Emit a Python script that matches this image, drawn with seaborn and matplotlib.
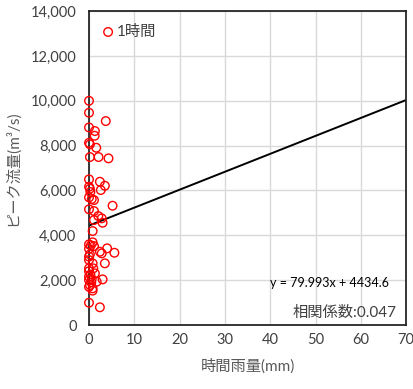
import numpy as np
import pandas as pd
import matplotlib
matplotlib.use("Agg")
import matplotlib.pyplot as plt
import seaborn as sns

# data
rain_mm = [0, 0, 3.7, 0, 1.3, 1.25, 0, 0.2, 1.6, 0.2, 2.1, 4.3, 0, 2.4, 0, 3.5, 2.6, 0.2,
           0.3, 0, 0.6, 1.1, 5.2, 0, 1.1, 2.05, 2.8, 3.0, 1.1, 0.8, 0, 0.8, 1.1, 2.4, 2.8,
           4.0, 5.6, 0, 0, 0.2, 3.5, 0.8, 0, 0.95, 1.3, 0, 0, 0.2, 3.0, 1.7, 0.8, 0.8, 0,
           2.4, 0, 0, 0.3, 0.5, 0, 0.4, 0.6]
peak_flow = [10000, 9467, 9095, 8810, 8650, 8440, 8127, 8056, 7905, 7490, 7490, 7432, 6496,
             6389, 6166, 6210, 6019, 6080, 5930, 5690, 5617, 5572, 5320, 5160, 5082, 4860,
             4757, 4560, 4681, 4190, 3597, 3687, 3522, 3268, 3196, 3420, 3223, 3050, 2900,
             3150, 2750, 2750, 2527, 2527, 2304, 2155, 2006, 1783, 2036, 1930, 1636, 1532,
             994, 790, 3400, 2400, 2250, 1900, 1700, 3550, 2050]
series_label = "1時間"
slope = 79.993
intercept = 4434.6
trend_x = [0, 70]
corr_text = "相関係数:0.047"
eq_text = "y = 79.993x + 4434.6"
xlabel = "時間雨量(mm)"
ylabel = "ピーク流量(m³/s)"

sns.set_style("white")
plt.rcParams['font.family'] = ['Lato', 'Noto Sans CJK JP', 'DejaVu Sans']

fig = plt.figure(figsize=(4.14, 3.89), dpi=100)
ax = fig.add_axes([0.215, 0.1645, 0.766, 0.807])

df = pd.DataFrame({"x": rain_mm, "y": peak_flow})
sns.scatterplot(data=df, x="x", y="y", ax=ax, marker="o", s=38,
                color="red", label=series_label, zorder=3)
coll = ax.collections[0]
coll.set_facecolor("none")
coll.set_edgecolor("red")
coll.set_linewidth(1.0)
coll.set_clip_on(False)

trend = pd.DataFrame({"x": trend_x, "y": [intercept + slope * v for v in trend_x]})
sns.lineplot(data=trend, x="x", y="y", ax=ax, color="black", linewidth=1.4,
             legend=False, zorder=2)

ax.set_xlim(0, 70)
ax.set_ylim(0, 14000)
ax.set_xticks(range(0, 71, 10))
ax.set_yticks(range(0, 14001, 2000))
ax.set_yticklabels([f"{v:,}" for v in range(0, 14001, 2000)])
ax.grid(True, color="#d9d9d9", linewidth=1.0)
ax.set_axisbelow(True)
for s in ax.spines.values():
    s.set_color("#262626")
    s.set_linewidth(1.3)
ax.tick_params(axis="both", length=0, labelsize=10.5, colors="#404040")
ax.tick_params(axis="y", pad=9)
ax.tick_params(axis="x", pad=6)
ax.set_xlabel(xlabel, fontsize=11, color="#595959", labelpad=8)
ax.set_ylabel(ylabel, fontsize=11, color="#595959", labelpad=8)

leg = ax.legend(loc="upper left", frameon=False, fontsize=11,
                bbox_to_anchor=(0.012, 0.985), handlelength=0.8,
                handletextpad=0.2, borderaxespad=0.2)
for t in leg.get_texts():
    t.set_color("#404040")
for h in leg.legend_handles:
    h.set_facecolor("none")
    h.set_edgecolor("red")

ax.text(0.945, 0.135, eq_text, transform=ax.transAxes, ha="right", va="center",
        fontsize=9, color="black")
ax.text(0.97, 0.04, corr_text, transform=ax.transAxes, ha="right", va="center",
        fontsize=11, color="#404040")

fig.savefig("out.png", dpi=100)
